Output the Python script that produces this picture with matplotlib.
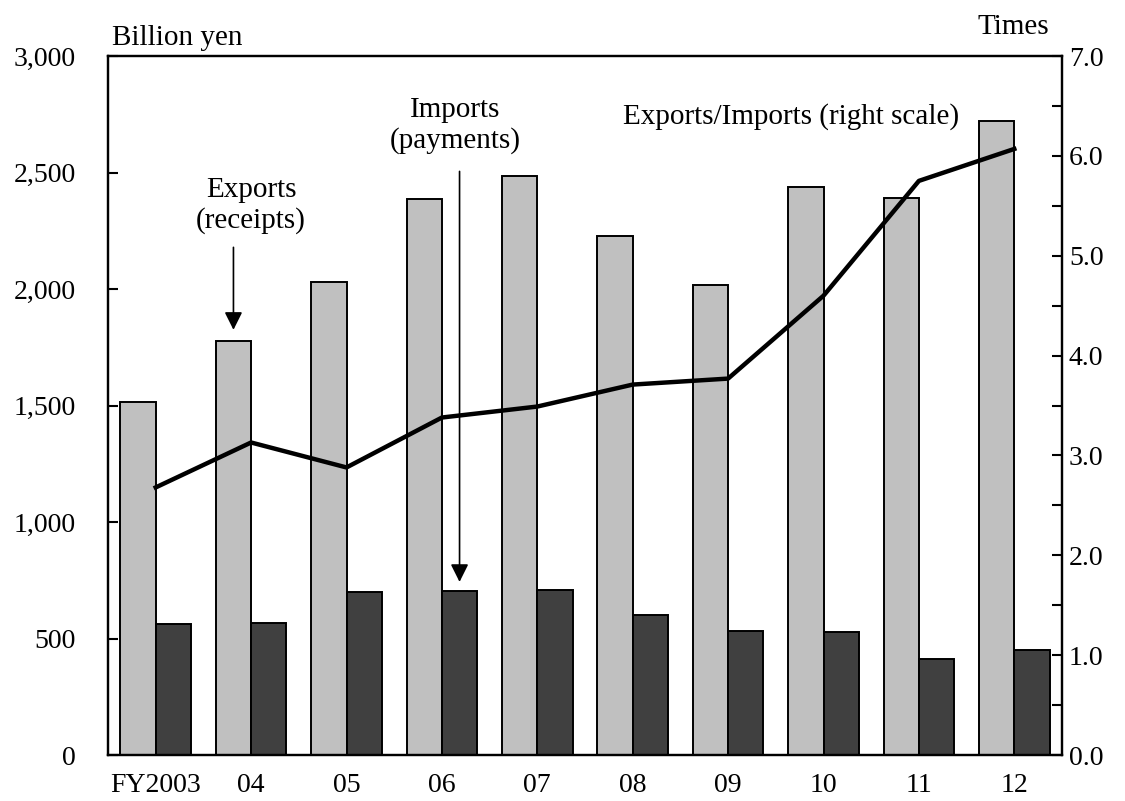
import matplotlib.pyplot as plt
from matplotlib.ticker import MultipleLocator, FuncFormatter

plt.rcParams['font.family'] = ['Liberation Serif', 'DejaVu Serif']

# =========================
# Data (billion yen / times)
# =========================
years = ["FY2003", "04", "05", "06", "07", "08", "09", "10", "11", "12"]
exports = [1515, 1778, 2030, 2385, 2485, 2227, 2017, 2440, 2389, 2723]
imports = [563, 566, 700, 703, 709, 599, 533, 528, 412, 451]
ratio = [2.68, 3.13, 2.88, 3.38, 3.49, 3.71, 3.77, 4.60, 5.75, 6.07]

LIGHT = "#c0c0c0"
DARK = "#404040"
FS = 20     # tick labels
FS_TXT = 21  # annotations / unit labels

fig = plt.figure(figsize=(11.25, 8.01), dpi=100)
ax = fig.add_axes([0.096, 0.0574, 0.848, 0.8726])
ax2 = ax.twinx()

x = list(range(len(years)))
w = 0.37
ax.bar([i - w / 2 for i in x], exports, width=w, color=LIGHT,
       edgecolor="black", linewidth=1.4, zorder=2)
ax.bar([i + w / 2 for i in x], imports, width=w, color=DARK,
       edgecolor="black", linewidth=1.4, zorder=2)
ax2.plot(x, ratio, color="black", linewidth=3.2, zorder=3)

ax.set_xlim(-0.5, 9.5)
ax.set_ylim(0, 3000)
ax2.set_ylim(0, 7.0)

ax.set_xticks(x)
ax.set_xticklabels(years, fontsize=FS)
ax.yaxis.set_major_locator(MultipleLocator(500))
ax.yaxis.set_major_formatter(FuncFormatter(lambda v, p: f"{v:,.0f}"))
ax2.yaxis.set_major_locator(MultipleLocator(1.0))
ax2.yaxis.set_minor_locator(MultipleLocator(0.5))
ax2.yaxis.set_major_formatter(FuncFormatter(lambda v, p: f"{v:.1f}"))

ax.tick_params(axis="x", length=0, pad=13)
ax.tick_params(axis="y", direction="in", length=7, width=1.5, labelsize=FS, pad=23)
ax2.tick_params(axis="y", which="both", direction="in", length=7, width=1.5,
                labelsize=FS, pad=5)

for a in (ax, ax2):
    for s in a.spines.values():
        s.set_linewidth(1.6)

# axis unit labels
fig.text(112 / 1125, 1 - 38 / 801, "Billion yen", fontsize=FS_TXT, ha="left", va="center")
fig.text(1049 / 1125, 1 - 27 / 801, "Times", fontsize=FS_TXT, ha="right", va="center")

# annotations
arrow = dict(arrowstyle="-|>,head_length=0.8,head_width=0.4", color="black",
             lw=1.2, mutation_scale=13.5, shrinkA=0, shrinkB=0)
ax.text(1.0, 2357, "Exports\n(receipts)", fontsize=FS_TXT, ha="center", va="center",
        linespacing=1.2)
ax.annotate("", xy=(1 - w / 2, 1825), xytext=(1 - w / 2, 2179), arrowprops=arrow)
ax.text(3.14, 2701, "Imports\n(payments)", fontsize=FS_TXT, ha="center", va="center",
        linespacing=1.2)
ax.annotate("", xy=(3 + w / 2, 743), xytext=(3 + w / 2, 2505), arrowprops=arrow)
ax.text(6.66, 2742, "Exports/Imports (right scale)", fontsize=FS_TXT, ha="center",
        va="center")

fig.savefig("out.png", dpi=100)
